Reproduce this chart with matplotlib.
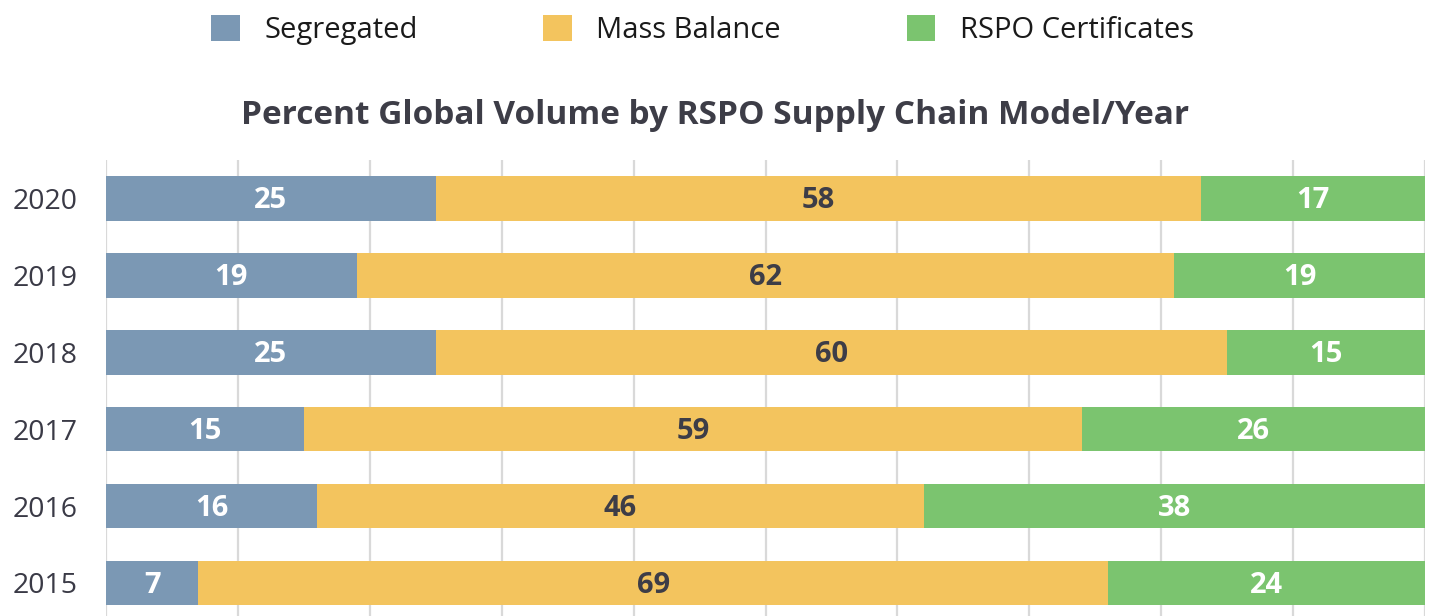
import matplotlib.pyplot as plt
import numpy as np

plt.rcParams['font.family'] = ['Open Sans', 'DejaVu Sans']

years = ['2020', '2019', '2018', '2017', '2016', '2015']
segregated = [25, 19, 25, 15, 16, 7]
mass_balance = [58, 62, 60, 59, 46, 69]
certificates = [17, 19, 15, 26, 38, 24]

series = [
    ('Segregated', segregated, '#7b98b4', 'white'),
    ('Mass Balance', mass_balance, '#f3c45e', '#3d3d47'),
    ('RSPO Certificates', certificates, '#7bc46f', 'white'),
]

fig = plt.figure(figsize=(14.32, 6.16), dpi=100)
ax = fig.add_axes([106 / 1432, 0, 1319 / 1432, 456 / 616])

y = np.arange(len(years))
left = np.zeros(len(years))
for name, vals, color, tcolor in series:
    vals = np.array(vals)
    ax.barh(y, vals, left=left, height=0.58, color=color, label=name, zorder=3)
    for yi, l, v in zip(y, left, vals):
        ax.text(l + v / 2, yi + 0.03, str(v), ha='center', va='center', color=tcolor,
                fontsize=21, fontweight='bold', zorder=4)
    left += vals

ax.set_xlim(0, 100)
ax.set_ylim(5.43, -0.5)
ax.set_xticks(np.arange(0, 101, 10))
ax.set_xticklabels([])
ax.tick_params(axis='x', length=0)
ax.grid(axis='x', color='#d9d9d9', linewidth=1.6, zorder=0)
ax.set_yticks(y)
ax.set_yticklabels(years, fontsize=20.5, color='#3a3a46')
ax.tick_params(axis='y', length=0, pad=20.5)
for s in ax.spines.values():
    s.set_visible(False)

fig.text(0.4995, 1 - 115 / 616, 'Percent Global Volume by RSPO Supply Chain Model/Year',
         ha='center', va='center', fontsize=24, fontweight='bold', color='#3d3d47')

fig.legend(loc='center', bbox_to_anchor=(0.4905, 1 - 30 / 616), ncol=3, frameon=False,
           fontsize=21, handlelength=0.98, handleheight=0.98, handletextpad=0.85,
           columnspacing=4.3, labelcolor='#1a1a1a')

fig.savefig('out.png', dpi=100)
